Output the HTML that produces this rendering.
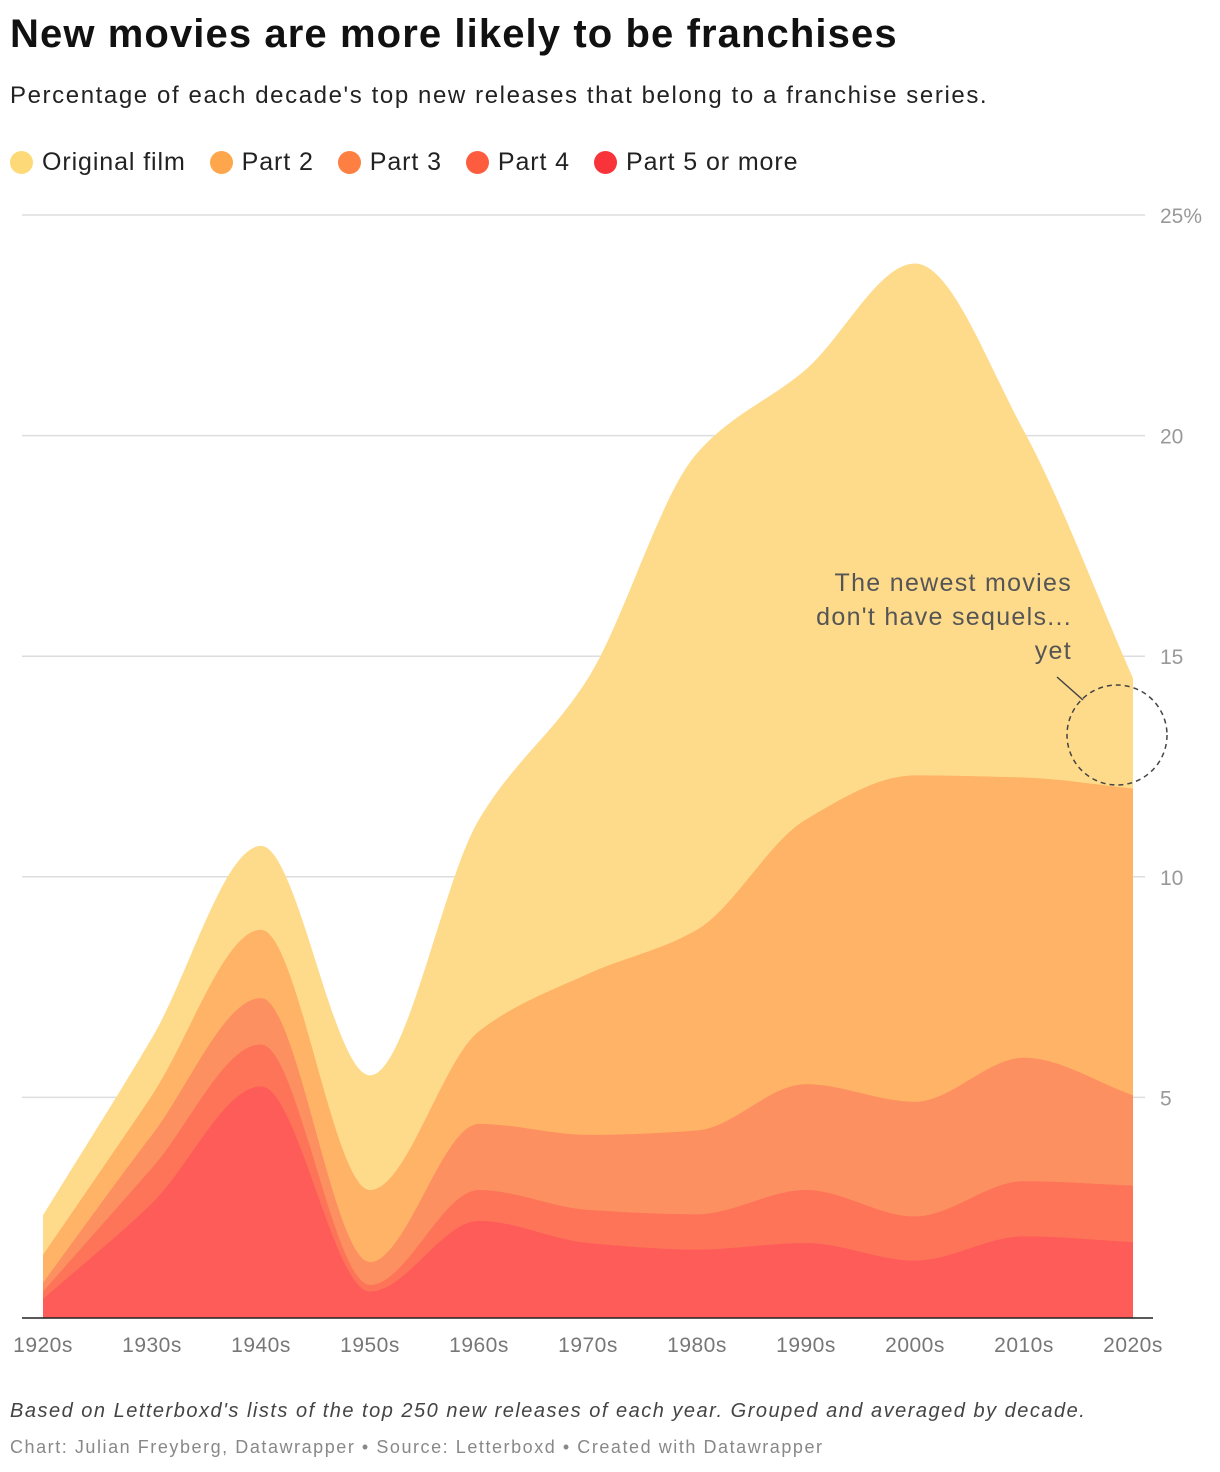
<!DOCTYPE html>
<html><head><meta charset="utf-8"><style>
body{margin:0;background:#fff;width:1220px;height:1472px;overflow:hidden;font-family:"Liberation Sans",sans-serif;}
#title{position:absolute;left:10px;top:12px;font-size:40px;font-weight:bold;color:#111;margin:0;letter-spacing:1.1px}
#sub{position:absolute;left:10px;top:82px;font-size:24px;color:#222;letter-spacing:1.6px}
#legend{position:absolute;left:10px;top:148px;font-size:25px;color:#222;display:flex;gap:24px;letter-spacing:0.9px}
.li{display:flex;align-items:center}
.dot{width:23px;height:23px;border-radius:50%;margin-right:9px}
#note{position:absolute;left:10px;top:1400px;font-size:20px;font-style:italic;color:#444;letter-spacing:1.5px}
#credit{position:absolute;left:10px;top:1437px;font-size:18px;color:#888;letter-spacing:1.55px}
svg{position:absolute;left:0;top:0}
</style></head><body>
<h1 id="title">New movies are more likely to be franchises</h1>
<div id="sub">Percentage of each decade's top new releases that belong to a franchise series.</div>
<div id="legend"></div>
<svg id="chart" width="1220" height="1472"></svg>
<div id="note">Based on Letterboxd's lists of the top 250 new releases of each year. Grouped and averaged by decade.</div>
<div id="credit">Chart: Julian Freyberg, Datawrapper • Source: Letterboxd • Created with Datawrapper</div>
<script>
const decades=["1920s","1930s","1940s","1950s","1960s","1970s","1980s","1990s","2000s","2010s","2020s"];
const seriesNames=["Original film","Part 2","Part 3","Part 4","Part 5 or more"];
const part5=[0.43,2.6,5.25,0.6,2.2,1.7,1.55,1.7,1.3,1.85,1.72];
const part4=[0.17,0.8,0.95,0.15,0.7,0.75,0.8,1.2,1.0,1.25,1.28];
const part3=[0.2,0.75,1.05,0.52,1.5,1.7,1.9,2.4,2.6,2.8,2.05];
const part2=[0.63,0.9,1.55,1.63,2.1,3.65,4.55,6.0,7.4,6.35,6.95];
const original=[0.9,1.3,1.9,2.6,4.8,6.7,10.8,10.2,11.6,7.85,2.5];
const yTicks=[5,10,15,20,25];
const colors=["#fedb8b","#feb366","#fd9060","#fd7458","#fe5c58"];
const dotColors=["#fdd977","#fda64b","#fd7f41","#fe5c3e","#f8333a"];
const NS="http://www.w3.org/2000/svg";
const svg=document.getElementById('chart');
const X=i=>43+i*109;
const Y=v=>1318-v*(1103/25);
function mk(t,a){const e=document.createElementNS(NS,t);for(const k in a)e.setAttribute(k,a[k]);svg.appendChild(e);return e;}
const lg=document.getElementById('legend');
seriesNames.forEach((n,i)=>{const d=document.createElement('div');d.className='li';


d.innerHTML='<span class="dot" style="background:'+dotColors[i]+'"></span>'+n;lg.appendChild(d);});
yTicks.forEach(t=>{const l=mk('line',{x1:22,x2:1145,y1:Y(t),y2:Y(t),stroke:'#ddd','stroke-width':1.5});


const tx=mk('text',{x:1160,y:Y(t)+8,'font-size':21,fill:'#999','font-family':'Liberation Sans'});


tx.textContent=t+(t===25?'%':'');});
function mono(xs,ys){const n=xs.length,d=[],m=[];for(let i=0;i<n-1;i++)d.push((ys[i+1]-ys[i])/(xs[i+1]-xs[i]));
m[0]=d[0];m[n-1]=d[n-2];for(let i=1;i<n-1;i++){m[i]=d[i-1]*d[i]<=0?0:(2*d[i-1]*d[i])/(d[i-1]+d[i]);}
let p='';for(let i=0;i<n-1;i++){const h=xs[i+1]-xs[i];p+=' C'+(xs[i]+h/3)+','+(ys[i]+m[i]*h/3)+' '+(xs[i+1]-h/3)+','+(ys[i+1]-m[i+1]*h/3)+' '+xs[i+1]+','+ys[i+1];}return p;}
const layers=[part5,part4,part3,part2,original];
const cum=decades.map(()=>0);const tops=[];
layers.forEach(l=>{const prev=cum.slice();l.forEach((v,i)=>cum[i]+=v);tops.push({lo:prev,hi:cum.slice()});});
const xs=decades.map((_,i)=>X(i));
for(let k=tops.length-1;k>=0;k--){const hy=tops[k].hi.map(Y);
const p='M'+xs[0]+','+hy[0]+mono(xs,hy)+' L'+xs[xs.length-1]+','+Y(0)+' L'+xs[0]+','+Y(0)+'Z';
const ci=4-k;const e=mk('path',{d:p,fill:colors[ci]});

}
const ax=mk('line',{x1:22,x2:1153,y1:1318,y2:1318,stroke:'#222','stroke-width':1.5});


decades.forEach((d,i)=>{const t=mk('text',{x:X(i),y:1352,'font-size':21,fill:'#777','text-anchor':'middle','font-family':'Liberation Sans','letter-spacing':0.5});


t.textContent=d;});
["The newest movies","don't have sequels...","yet"].forEach((s,i)=>{const t=mk('text',{x:1072,y:591+i*34,'font-size':25,fill:'#555','text-anchor':'end','font-family':'Liberation Sans','letter-spacing':1.3});


t.textContent=s;});
const al=mk('line',{x1:1057,y1:677,x2:1083,y2:700,stroke:'#444','stroke-width':1.5});


const c=mk('circle',{cx:1117,cy:735,r:50,fill:'none',stroke:'#444','stroke-width':1.5,'stroke-dasharray':'5,4'});


</script>
</body></html>
